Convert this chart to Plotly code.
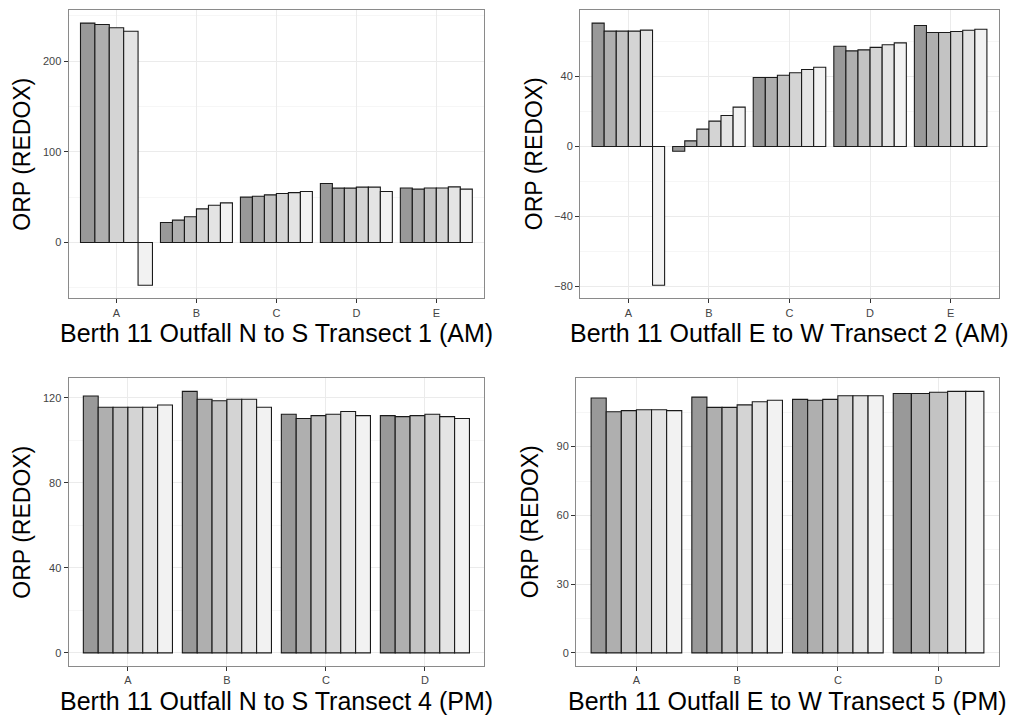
import plotly.graph_objects as go

# ORP readings per station, one value per sampling level (None = no reading)
stations_t1 = ["A", "B", "C", "D", "E"]
t1_values = [
    [241.9, 240.4, None, 236.7, 233.0, -47.1],
    [22.0, 24.6, 28.3, 37.1, 41.0, 43.7],
    [50.0, 51.0, 52.5, 54.0, 55.0, 56.2],
    [65.0, 59.9, 59.9, 61.0, 61.0, 56.2],
    [60.0, 58.8, 60.0, 60.0, 61.3, 58.8],
]

stations_t2 = ["A", "B", "C", "D", "E"]
t2_values = [
    [70.5, 65.9, 65.9, 65.9, 66.5, -79.3],
    [-2.7, 3.2, 9.9, 14.5, 17.7, 22.5],
    [39.4, 39.4, 40.7, 42.1, 44.0, 45.3],
    [57.3, 54.6, 55.2, 56.6, 58.1, 59.2],
    [69.1, 65.1, 65.1, 65.7, 66.4, 67.0],
]

stations_t4 = ["A", "B", "C", "D"]
t4_values = [
    [120.9, 115.6, 115.6, 115.6, 115.6, 116.7],
    [123.1, 119.4, 118.7, 119.4, 119.4, 115.6],
    [112.3, 110.3, 111.7, 112.3, 113.6, 111.7],
    [111.7, 111.2, 111.7, 112.3, 111.2, 110.3],
]

stations_t5 = ["A", "B", "C", "D"]
t5_values = [
    [111.2, 105.2, 105.7, 106.1, 106.1, 105.7],
    [111.6, 107.1, 107.1, 108.2, 109.6, 110.2],
    [110.6, 110.2, 110.6, 112.2, 112.2, 112.2],
    [113.2, 113.2, 113.7, None, 114.1, 114.1],
]

level_fills = ["#999999", "#AFAFAF", "#C3C3C3", "#D4D4D4", "#E4E4E4", "#F2F2F2"]

titles = [
    "Berth 11 Outfall N to S Transect 1 (AM)",
    "Berth 11 Outfall E to W Transect 2 (AM)",
    "Berth 11 Outfall N to S Transect 4 (PM)",
    "Berth 11 Outfall E to W Transect 5 (PM)",
]
y_title = "ORP (REDOX)"
y_dticks = [100, 40, 40, 30]

W, H = 1017, 717
# panel rectangles in pixels: left, right, top, bottom
panels_px = [
    (68.5, 484.3, 10, 298.3),
    (580, 999, 10, 298.3),
    (68.5, 484.3, 378.3, 666),
    (576, 999, 378.3, 666),
]

FONT = "Liberation Sans, Arial, sans-serif"

fig = go.Figure()
layout = {}
annotations = []

datasets = [
    (stations_t1, t1_values),
    (stations_t2, t2_values),
    (stations_t4, t4_values),
    (stations_t5, t5_values),
]

for k, ((stations, values), (l, r, t, b)) in enumerate(zip(datasets, panels_px)):
    sfx = "" if k == 0 else str(k + 1)
    xs, ys, ws, cols = [], [], [], []
    all_vals = []
    for gi, row in enumerate(values):
        present = [(li, v) for li, v in enumerate(row) if v is not None]
        n = len(present)
        w = 0.9 / n
        for j, (li, v) in enumerate(present):
            xs.append(gi + 1 - 0.45 + (j + 0.5) * w)
            ys.append(v)
            ws.append(w)
            cols.append(level_fills[li])
            all_vals.append(v)
    fig.add_trace(go.Bar(
        x=xs, y=ys, width=ws,
        marker=dict(color=cols, line=dict(color="#1a1a1a", width=1.1)),
        xaxis="x" + sfx, yaxis="y" + sfx, showlegend=False,
    ))

    lo, hi = min(0, min(all_vals)), max(0, max(all_vals))
    pad = (hi - lo) * 0.05
    dt = y_dticks[k]

    common = dict(
        showline=True, mirror=True, linecolor="#8a8a8a", linewidth=1,
        ticks="outside", ticklen=4, tickwidth=1, tickcolor="#333333",
        tickfont=dict(family=FONT, size=11, color="#444444"),
        gridcolor="#ebebeb", gridwidth=1, zeroline=False,
    )
    layout["xaxis" + sfx] = dict(
        domain=[l / W, r / W], anchor="y" + sfx,
        range=[0.4, len(stations) + 0.6],
        tickmode="array", tickvals=list(range(1, len(stations) + 1)),
        ticktext=stations, **common,
    )
    layout["yaxis" + sfx] = dict(
        domain=[1 - b / H, 1 - t / H], anchor="x" + sfx,
        range=[lo - pad, hi + pad], tick0=0, dtick=dt,
        minor=dict(dtick=dt / 2, tick0=0, showgrid=True, gridcolor="#f6f6f6",
                   gridwidth=1, ticks=""),
        **common,
    )
    annotations.append(dict(
        text=titles[k], xref="paper", yref="paper",
        x=(l + r) / 2 / W, y=1 - (b + 35) / H, xanchor="center", yanchor="middle",
        showarrow=False, font=dict(family=FONT, size=25, color="#000000"),
    ))
    annotations.append(dict(
        text=y_title, xref="paper", yref="paper", textangle=-90,
        x=(l - 46) / W, y=1 - (t + b) / 2 / H, xanchor="center", yanchor="middle",
        showarrow=False, font=dict(family=FONT, size=23, color="#000000"),
    ))

fig.update_layout(
    width=W, height=H, margin=dict(l=0, r=0, t=0, b=0),
    paper_bgcolor="white", plot_bgcolor="white",
    barmode="overlay", annotations=annotations, **layout,
)

fig.write_html("out.html")
